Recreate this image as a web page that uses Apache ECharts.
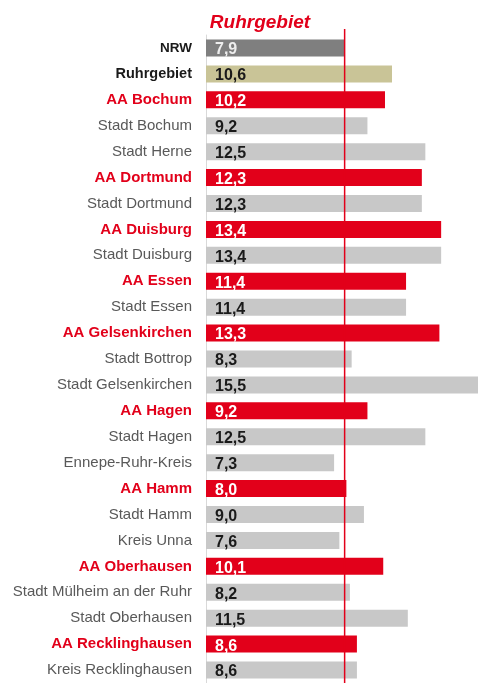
<!DOCTYPE html>
<html><head><meta charset="utf-8">
<script src="https://cdn.jsdelivr.net/npm/echarts@6/dist/echarts.min.js"></script>
<style>html,body{margin:0;padding:0;background:#fff}#c{width:478px;height:683px}</style>
</head><body><div id="c"></div>
<script>
const categories = ["NRW","Ruhrgebiet","AA Bochum","Stadt Bochum","Stadt Herne","AA Dortmund","Stadt Dortmund","AA Duisburg","Stadt Duisburg","AA Essen","Stadt Essen","AA Gelsenkirchen","Stadt Bottrop","Stadt Gelsenkirchen","AA Hagen","Stadt Hagen","Ennepe-Ruhr-Kreis","AA Hamm","Stadt Hamm","Kreis Unna","AA Oberhausen","Stadt Mülheim an der Ruhr","Stadt Oberhausen","AA Recklinghausen","Kreis Recklinghausen"];
const values = [7.9,10.6,10.2,9.2,12.5,12.3,12.3,13.4,13.4,11.4,11.4,13.3,8.3,15.5,9.2,12.5,7.3,8.0,9.0,7.6,10.1,8.2,11.5,8.6,8.6];
const referenceValue = 7.9;
const titleText = "Ruhrgebiet";

const kindOf = c => c === "NRW" ? "nrw" : c === "Ruhrgebiet" ? "ruhr" : c.startsWith("AA ") ? "aa" : "other";
const barColor = {nrw:"#7f7f7f", ruhr:"#c9c497", aa:"#e2001a", other:"#c8c8c8"};
const valColor = {nrw:"#eeeeee", ruhr:"#1a1a1a", aa:"#ffffff", other:"#1a1a1a"};
const FF = 'Liberation Sans, Arial';

const chart = echarts.init(document.getElementById('c'));
chart.setOption({
  animation:false,
  title:{text:titleText,left:255,top:8,textAlign:'center',
    textStyle:{color:'#e2001a',fontSize:19,fontWeight:'bold',fontStyle:'italic',fontFamily:FF}},
  grid:[
    {left:206,right:0,top:35,bottom:-2,containLabel:false},
    {left:206,right:0,top:29,bottom:0,containLabel:false}
  ],
  xAxis:[
    {type:'value',min:0,max:15.5,show:false,gridIndex:0},
    {type:'value',min:0,max:15.5,show:false,gridIndex:1}
  ],
  yAxis:[
    {type:'category',inverse:true,data:categories,gridIndex:0,
    axisLine:{show:true,lineStyle:{color:'#d9d9d9',width:1}},
    axisTick:{show:false},
    axisLabel:{margin:14,fontFamily:FF,
      formatter:(v)=>{const k=kindOf(v);return '{'+k+'|'+v+'}';},
      rich:{
        nrw:{color:'#1a1a1a',fontWeight:'bold',fontSize:13.5,fontFamily:FF},
        ruhr:{color:'#1a1a1a',fontWeight:'bold',fontSize:14.5,fontFamily:FF},
        aa:{color:'#e2001a',fontWeight:'bold',fontSize:15,fontFamily:FF},
        other:{color:'#595959',fontSize:15,fontFamily:FF}
      }}},
    {type:'value',min:0,max:1,show:false,gridIndex:1}
  ],
  series:[{
    type:'bar',barWidth:17,xAxisIndex:0,yAxisIndex:0,
    data:values.map((v,i)=>({value:v,itemStyle:{color:barColor[kindOf(categories[i])]},
      label:{color:valColor[kindOf(categories[i])]}})),
    label:{show:true,position:'insideLeft',offset:[4,2],fontSize:16,fontWeight:'bold',
      fontFamily:FF,
      formatter:p=>p.value.toFixed(1).replace('.',',')}
  },{
    type:'line',xAxisIndex:1,yAxisIndex:1,symbol:'none',silent:true,
    lineStyle:{color:'#e2001a',width:1.5},
    data:[[referenceValue,0],[referenceValue,1]]
  }]
});
</script></body></html>
